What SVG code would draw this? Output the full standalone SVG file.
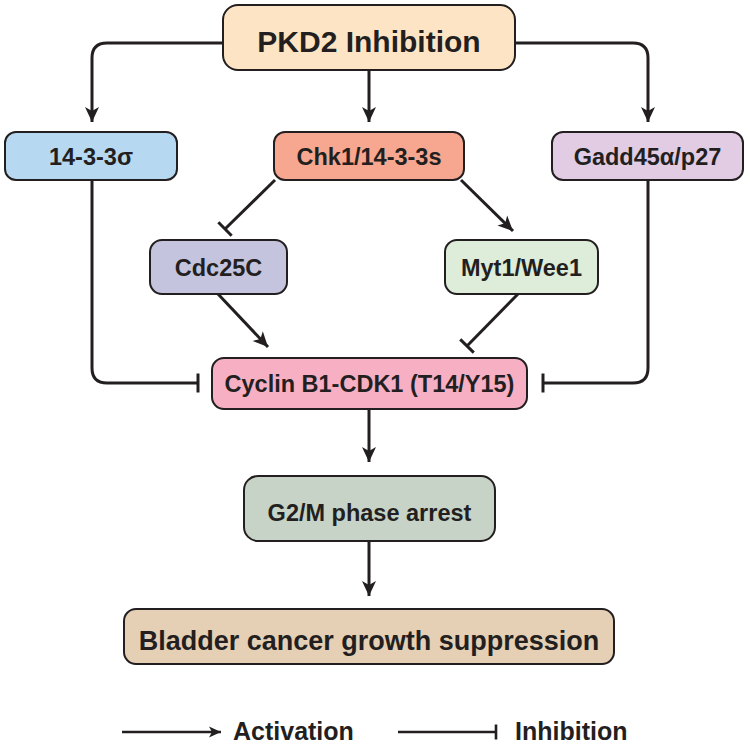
<svg xmlns="http://www.w3.org/2000/svg" width="750" height="745" viewBox="0 0 750 745">
<style>
.box{stroke:#231F20;stroke-width:2}
.t{font-family:"Liberation Sans",Arial,sans-serif;font-weight:bold;fill:#231F20;text-anchor:middle;font-size:23.5px}
.c{fill:none;stroke:#231F20;stroke-width:3}
.lg{fill:none;stroke:#231F20;stroke-width:2.6}
.lt{font-family:"Liberation Sans",Arial,sans-serif;font-weight:bold;fill:#231F20;font-size:25px}
</style>
<defs>
<marker id="arr" markerUnits="userSpaceOnUse" viewBox="-1 -9 17 18" refX="15" refY="0" markerWidth="17" markerHeight="18" orient="auto" overflow="visible">
<path d="M0,-7 L15,0 L0,7 L4,0 Z" fill="#231F20"/>
</marker>
<marker id="arrS" markerUnits="userSpaceOnUse" viewBox="-1 -7 14 14" refX="12" refY="0" markerWidth="14" markerHeight="14" orient="auto" overflow="visible">
<path d="M0,-5.5 L12,0 L0,5.5 L3,0 Z" fill="#231F20"/>
</marker>
<marker id="bar" markerUnits="userSpaceOnUse" viewBox="-3 -10 6 20" refX="0" refY="0" markerWidth="6" markerHeight="20" orient="auto" overflow="visible">
<path d="M0,-9.5 L0,9.5" stroke="#231F20" stroke-width="3"/>
</marker>
<marker id="barS" markerUnits="userSpaceOnUse" viewBox="-3 -9 6 18" refX="0" refY="0" markerWidth="6" markerHeight="18" orient="auto" overflow="visible">
<path d="M0,-7.5 L0,7.5" stroke="#231F20" stroke-width="2.6"/>
</marker>
</defs>
<rect width="750" height="745" fill="#ffffff"/>
<g id="connectors">
<path class="c" d="M223,43 H107 Q92,43 92,58 V122" marker-end="url(#arr)"/>
<path class="c" d="M369,70 V122" marker-end="url(#arr)"/>
<path class="c" d="M515,43 H633 Q648,43 648,58 V122" marker-end="url(#arr)"/>
<path class="c" d="M92,180 V368 Q92,383 107,383 H198" marker-end="url(#bar)"/>
<path class="c" d="M648,180 V368 Q648,383 633,383 H543" marker-end="url(#bar)"/>
<path class="c" d="M275,180 L225,229" marker-end="url(#bar)"/>
<path class="c" d="M461,180 L513,231" marker-end="url(#arr)"/>
<path class="c" d="M218,294 L268,347" marker-end="url(#arr)"/>
<path class="c" d="M518,294 L467,346" marker-end="url(#bar)"/>
<path class="c" d="M369,409 V462" marker-end="url(#arr)"/>
<path class="c" d="M369,541 V596" marker-end="url(#arr)"/>
</g>
<g id="pkd2">
<rect class="box" x="223" y="5" width="292" height="65" rx="15" fill="#FDE4C4"/>
<text class="t" x="369" y="52" style="font-size:30px">PKD2 Inhibition</text>
</g>
<g id="n1433sigma">
<rect class="box" x="5" y="132" width="172" height="48" rx="11" fill="#B6D9F1"/>
<text class="t" x="91" y="165">14-3-3σ</text>
</g>
<g id="chk1">
<rect class="box" x="274" y="132" width="190" height="48" rx="11" fill="#F7A78F"/>
<text class="t" x="369" y="165">Chk1/14-3-3s</text>
</g>
<g id="gadd45">
<rect class="box" x="552" y="132" width="191" height="48" rx="11" fill="#E1CCE3"/>
<text class="t" x="647.5" y="165">Gadd45α/p27</text>
</g>
<g id="cdc25c">
<rect class="box" x="150" y="240" width="137" height="54" rx="12" fill="#C5C4DE"/>
<text class="t" x="218.5" y="276">Cdc25C</text>
</g>
<g id="myt1">
<rect class="box" x="445" y="240" width="153" height="54" rx="12" fill="#DDEDD9"/>
<text class="t" x="521.5" y="276">Myt1/Wee1</text>
</g>
<g id="cyclin">
<rect class="box" x="212" y="358" width="315" height="51" rx="12" fill="#F7B0C3"/>
<text class="t" x="369.5" y="392">Cyclin B1-CDK1 (T14/Y15)</text>
</g>
<g id="g2m">
<rect class="box" x="244" y="476" width="251" height="65" rx="14" fill="#C6D3C6"/>
<text class="t" x="369.5" y="521">G2/M phase arrest</text>
</g>
<g id="bladder">
<rect class="box" x="124" y="609" width="490" height="55" rx="12" fill="#E5D0B5"/>
<text class="t" x="369" y="650" style="font-size:27px">Bladder cancer growth suppression</text>
</g>
<g id="legend">
<path class="lg" d="M122,732 H221" marker-end="url(#arrS)"/>
<text class="lt" x="233" y="740">Activation</text>
<path class="lg" d="M398,732 H496" marker-end="url(#barS)"/>
<text class="lt" x="515" y="740">Inhibition</text>
</g>
</svg>
